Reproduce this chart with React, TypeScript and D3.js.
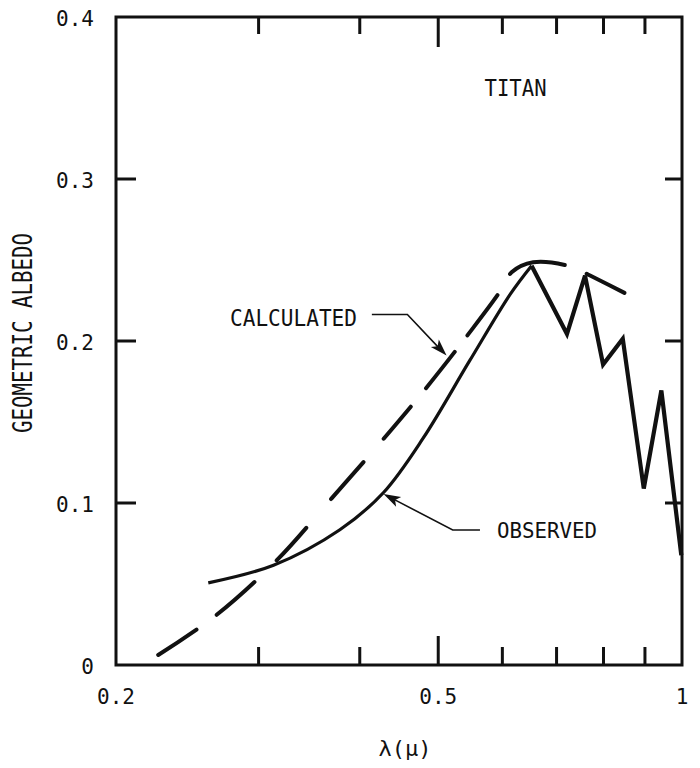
import React from 'react';
import * as d3 from 'd3';

// ---- data ----
const xMinorTicks = [0.3, 0.4, 0.6, 0.7, 0.8, 0.9];
const xMajorTicks = [0.5];
const xTickLabelValues = [0.2, 0.5, 1];
const xTickLabelTexts = ['0.2', '0.5', '1'];
const yTicks = [0.1, 0.2, 0.3];
const yTickLabelValues = [0, 0.1, 0.2, 0.3, 0.4];
const yTickLabelTexts = ['0', '0.1', '0.2', '0.3', '0.4'];

// Observed: smooth rise
const obsSmoothLambda = [0.26, 0.313, 0.378, 0.428, 0.479, 0.547, 0.614, 0.652];
const obsSmoothAlbedo = [0.0507, 0.0616, 0.0835, 0.1065, 0.14, 0.188, 0.2291, 0.2465];
// Observed: band structure (straight segments)
const obsBandLambda = [0.652, 0.721, 0.759, 0.799, 0.845, 0.897, 0.943, 0.998];
const obsBandAlbedo = [0.2465, 0.2044, 0.2404, 0.1855, 0.2014, 0.1089, 0.1695, 0.0678];

// Calculated (dashed)
const calcLambda = [0.2255, 0.266, 0.316, 0.369, 0.428, 0.484, 0.545, 0.597, 0.616, 0.655, 0.73, 0.77, 0.867];
const calcAlbedo = [0.0062, 0.0308, 0.0647, 0.1027, 0.1396, 0.1715, 0.2044, 0.2311, 0.2424, 0.2486, 0.2459, 0.2404, 0.2274];

// annotations (data space)
const titanPos = [0.623, 0.3515];
const calcLabelEnd = [0.414, 0.2164];
const calcElbow = [0.458, 0.2164];
const calcTip = [0.512, 0.191];
const obsLabelStart = [0.563, 0.0833];
const obsElbow = [0.521, 0.0833];
const obsTip = [0.428, 0.1055];

const FONT = "'DejaVu Sans Mono', 'Liberation Mono', monospace";

export default function App() {
  const L = 116, R = 682, B = 665, T = 17;
  const x = d3.scaleLog().domain([0.2, 1]).range([L, R]);
  const y = d3.scaleLinear().domain([0, 0.4]).range([B, T]);

  const smoothLine = d3.line<number>()
    .x((_, i) => x(obsSmoothLambda[i]))
    .y((_, i) => y(obsSmoothAlbedo[i]))
    .curve(d3.curveCatmullRom.alpha(0.5));
  const bandLine = d3.line<number>()
    .x((_, i) => x(obsBandLambda[i]))
    .y((_, i) => y(obsBandAlbedo[i]));
  const calcLine = d3.line<number>()
    .x((_, i) => x(calcLambda[i]))
    .y((_, i) => y(calcAlbedo[i]))
    .curve(d3.curveCatmullRom.alpha(0.5));

  const arrowHead = (from: number[], tip: number[]) => {
    const fx = x(from[0]), fy = y(from[1]);
    const tx = x(tip[0]), ty = y(tip[1]);
    const dx = tx - fx, dy = ty - fy;
    const len = Math.hypot(dx, dy);
    const ux = dx / len, uy = dy / len;
    const hl = 17, hw = 5.5;
    const bx = tx - ux * hl, by = ty - uy * hl;
    const p = [
      [tx, ty],
      [bx - uy * hw, by + ux * hw],
      [bx + ux * 4, by + uy * 4],
      [bx + uy * hw, by - ux * hw],
    ];
    return p.map(q => q.join(',')).join(' ');
  };

  const lw = 3;

  return (
    <svg width={700} height={768} style={{ position: 'absolute', left: 0, top: 0, background: '#fff' }}>
      <rect x={0} y={0} width={700} height={768} fill="#fff" />
      {/* frame */}
      <rect x={L} y={T} width={R - L} height={B - T} fill="none" stroke="#111" strokeWidth={lw} />
      {/* x ticks bottom & top */}
      {xMinorTicks.map(v => (
        <g key={'xm' + v}>
          <line x1={x(v)} x2={x(v)} y1={B} y2={B - 18} stroke="#111" strokeWidth={lw} />
          <line x1={x(v)} x2={x(v)} y1={T} y2={T + 17} stroke="#111" strokeWidth={lw} />
        </g>
      ))}
      {xMajorTicks.map(v => (
        <g key={'xM' + v}>
          <line x1={x(v)} x2={x(v)} y1={B} y2={B - 29} stroke="#111" strokeWidth={lw} />
          <line x1={x(v)} x2={x(v)} y1={T} y2={T + 30} stroke="#111" strokeWidth={lw} />
        </g>
      ))}
      {/* y ticks left & right */}
      {yTicks.map(v => (
        <g key={'y' + v}>
          <line x1={L} x2={L + 20} y1={y(v)} y2={y(v)} stroke="#111" strokeWidth={lw} />
          <line x1={R} x2={R - 17} y1={y(v)} y2={y(v)} stroke="#111" strokeWidth={lw} />
        </g>
      ))}
      {/* tick labels */}
      {xTickLabelValues.map((v, i) => (
        <text key={'xl' + v} x={x(v)} y={704} textAnchor="middle" fontFamily={FONT} fontSize={21} fill="#111">
          {xTickLabelTexts[i]}
        </text>
      ))}
      {yTickLabelValues.map((v, i) => (
        <text key={'yl' + v} x={94} y={y(v) + 9} textAnchor="end" fontFamily={FONT} fontSize={21} fill="#111">
          {yTickLabelTexts[i]}
        </text>
      ))}
      {/* axis titles */}
      <text x={405} y={756} textAnchor="middle" fontFamily={FONT} fontSize={22} fill="#111">λ(μ)</text>
      <text transform="translate(32,333) rotate(-90)" textAnchor="middle" fontFamily={FONT} fontSize={26}
        textLength={200} lengthAdjust="spacingAndGlyphs" fill="#111">GEOMETRIC ALBEDO</text>

      {/* curves */}
      <path d={calcLine(calcLambda) || ''} fill="none" stroke="#111" strokeWidth={4} strokeLinecap="round"
        strokeDasharray="46 25 50 31 44 38 49 31 42 24 46 21 50 25 58 24 42 200" />
      <path d={smoothLine(obsSmoothLambda) || ''} fill="none" stroke="#111" strokeWidth={3.2} strokeLinejoin="round" />
      <path d={bandLine(obsBandLambda) || ''} fill="none" stroke="#111" strokeWidth={4.2} strokeLinejoin="miter" strokeMiterlimit={3} />

      {/* annotations */}
      <text x={x(titanPos[0])} y={y(titanPos[1])} textAnchor="middle" fontFamily={FONT} fontSize={23}
        textLength={62} lengthAdjust="spacingAndGlyphs" fill="#111">TITAN</text>

      <text x={230} y={326} fontFamily={FONT} fontSize={23} textLength={127} lengthAdjust="spacingAndGlyphs" fill="#111">CALCULATED</text>
      <polyline points={`${x(calcLabelEnd[0])},${y(calcLabelEnd[1])} ${x(calcElbow[0])},${y(calcElbow[1])} ${x(calcTip[0]) - 6},${y(calcTip[1]) - 6}`}
        fill="none" stroke="#111" strokeWidth={1.6} />
      <polygon points={arrowHead(calcElbow, calcTip)} fill="#111" />

      <text x={497} y={538} fontFamily={FONT} fontSize={22} textLength={100} lengthAdjust="spacingAndGlyphs" fill="#111">OBSERVED</text>
      <polyline points={`${x(obsLabelStart[0])},${y(obsLabelStart[1])} ${x(obsElbow[0])},${y(obsElbow[1])} ${x(obsTip[0]) + 8},${y(obsTip[1]) + 4}`}
        fill="none" stroke="#111" strokeWidth={1.6} />
      <polygon points={arrowHead(obsElbow, obsTip)} fill="#111" />
    </svg>
  );
}
